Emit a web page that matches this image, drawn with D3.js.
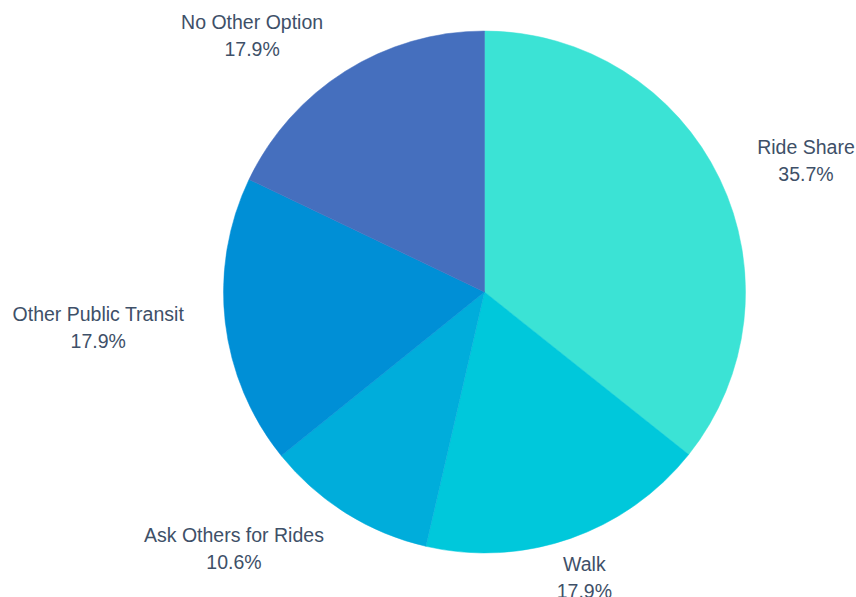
<!DOCTYPE html>
<html>
<head>
<meta charset="utf-8">
<script src="https://cdn.jsdelivr.net/npm/d3@7"></script>
<style>
  html, body { margin: 0; padding: 0; background: #ffffff; }
  svg { display: block; }
  text { font-family: "Liberation Sans", Arial, sans-serif; }
</style>
</head>
<body>
<svg id="chart" width="856" height="597"></svg>
<script>
// Share of respondents by fallback transport mode
const categories = ["Ride Share", "Walk", "Ask Others for Rides", "Other Public Transit", "No Other Option"];
const shares = [35.7, 17.9, 10.6, 17.9, 17.9];
const colors = ["#3be3d5", "#00c8db", "#00addb", "#008fd6", "#456fbe"];

const width = 856, height = 597;
const cx = 484.5, cy = 292, radius = 261;
const labelRadius = radius * 1.16;

const svg = d3.select("#chart");
const g = svg.append("g").attr("transform", `translate(${cx},${cy})`);

const data = categories.map((c, i) => ({ name: c, value: shares[i], color: colors[i] }));

const pie = d3.pie().value(d => d.value).sort(null);
const arc = d3.arc().innerRadius(0).outerRadius(radius);
const arcs = pie(data);

g.selectAll("path.slice")
  .data(arcs)
  .join("path")
  .attr("class", "slice")
  .attr("d", arc)
  .attr("fill", d => d.data.color)
  .attr("stroke", d => d.data.color)
  .attr("stroke-width", 0.5);

const fmt = d3.format(".1f");

const labels = g.selectAll("g.label")
  .data(arcs)
  .join("g")
  .attr("class", "label");

labels.each(function(d) {
  const grp = d3.select(this);
  const mid = (d.startAngle + d.endAngle) / 2;
  const dx = Math.sin(mid), dy = -Math.cos(mid);
  const px = dx * labelRadius, py = dy * labelRadius;

  const t1 = grp.append("text")
    .attr("text-anchor", "middle")
    .attr("font-size", 19.5)
    .attr("fill", "#3e5068")
    .text(d.data.name);
  const t2 = grp.append("text")
    .attr("text-anchor", "middle")
    .attr("font-size", 19.5)
    .attr("fill", "#3e5068")
    .text(fmt(d.data.value) + "%");

  const w = Math.max(t1.node().getComputedTextLength(), t2.node().getComputedTextLength());
  // Labels near the bottom/top sit centred on the ray; others hang off to the side
  let shift = 0;
  if (Math.abs(dx) >= 0.4) shift = Math.sign(dx) * w / 2;
  const x = px + shift;

  t1.attr("x", x).attr("y", py - 6.5);
  t2.attr("x", x).attr("y", py + 20.5);
});
</script>
</body>
</html>
